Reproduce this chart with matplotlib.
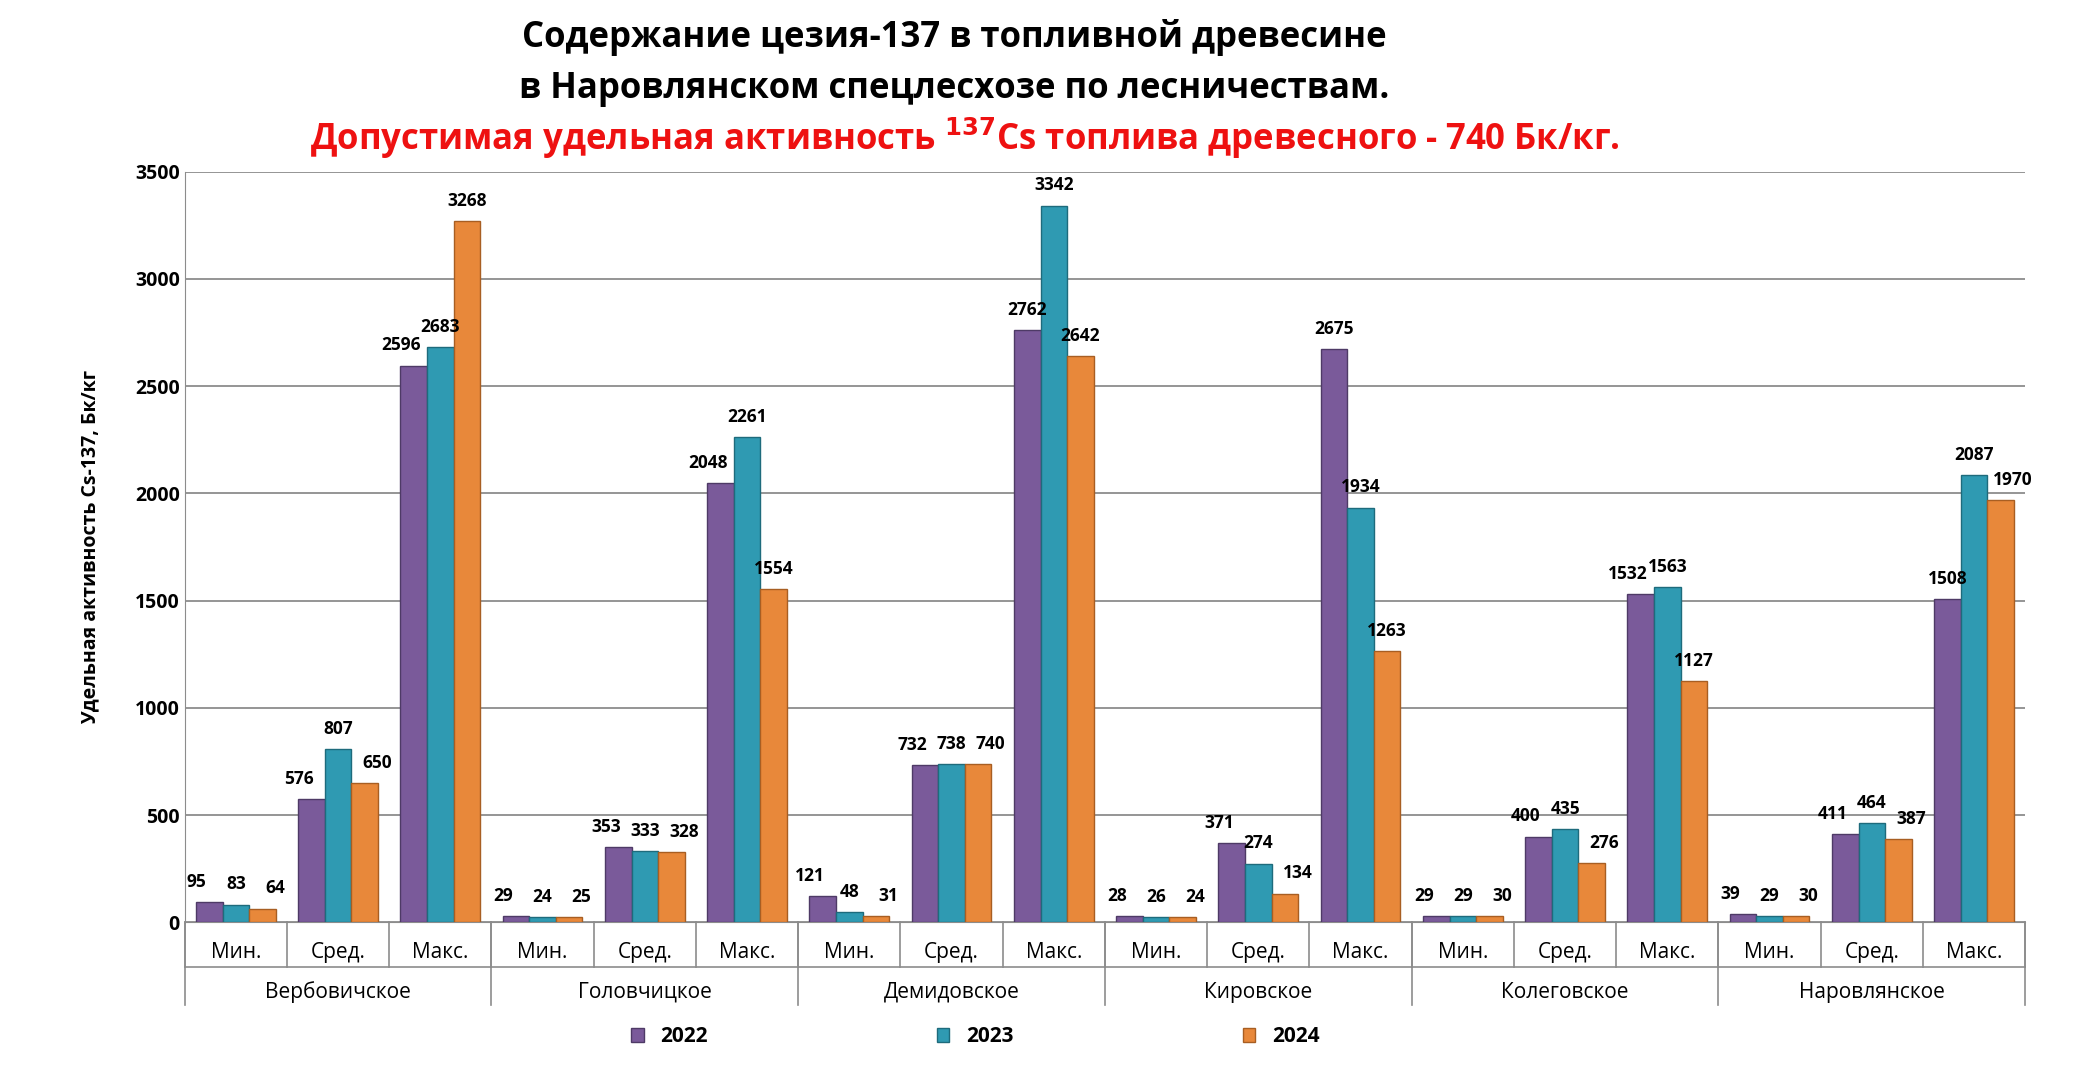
import matplotlib
matplotlib.use("Agg")
import matplotlib.pyplot as plt
import numpy as np

forestries = ["Вербовичское", "Головчицкое", "Демидовское", "Кировское", "Колеговское", "Наровлянское"]
stats = ["Мин.", "Сред.", "Макс."]
years = ["2022", "2023", "2024"]
v2022 = [95, 576, 2596, 29, 353, 2048, 121, 732, 2762, 28, 371, 2675, 29, 400, 1532, 39, 411, 1508]
v2023 = [83, 807, 2683, 24, 333, 2261, 48, 738, 3342, 26, 274, 1934, 29, 435, 1563, 29, 464, 2087]
v2024 = [64, 650, 3268, 25, 328, 1554, 31, 740, 2642, 24, 134, 1263, 30, 276, 1127, 30, 387, 1970]
colors = ["#7A5A9A", "#2F9AB2", "#E8883A"]
edges = ["#4E3A66", "#1E6B7C", "#A85E22"]

plt.rcParams["font.family"] = "Open Sans"
fig = plt.figure(figsize=(20.75, 10.8), dpi=100)
ax = fig.add_axes([0.089, 0.146, 0.887, 0.695])

n = len(v2022)
x = np.arange(n)
w = 0.26
series = [v2022, v2023, v2024]
for i, (vals, c, e) in enumerate(zip(series, colors, edges)):
    xs = x + (i - 1) * w
    ax.bar(xs, vals, w, color=c, edgecolor=e, linewidth=1, label=years[i], zorder=3)
    for j, (xx, v) in enumerate(zip(xs, vals)):
        mid = series[1][j]
        dx = 0
        if i == 0 and abs(v - mid) < 250:
            dx = -9
        if i == 2 and abs(v - mid) < 250:
            dx = 9
        ax.annotate(str(v), (xx, v), xytext=(dx, 8), textcoords="offset points",
                    ha="center", va="bottom", fontsize=12.5, fontweight="bold", zorder=4)

ax.set_ylim(0, 3500)
ax.set_xlim(-0.5, n - 0.5)
ax.set_yticks(range(0, 3501, 500))
ax.tick_params(axis="y", labelsize=14, length=0)
for lbl in ax.get_yticklabels():
    lbl.set_fontweight("bold")
ax.grid(axis="y", color="#8C8C8C", linewidth=1.3, zorder=0)
for s in ["top", "right"]:
    ax.spines[s].set_visible(False)
ax.spines["left"].set_color("#8C8C8C")
ax.spines["bottom"].set_color("#8C8C8C")
ax.set_xticks(x)
ax.set_xticklabels([stats[i % 3] for i in range(n)], fontsize=15)
ax.tick_params(axis="x", length=0, pad=14)
ax.set_ylabel("Удельная активность Cs-137, Бк/кг", fontsize=14, fontweight="bold", labelpad=25)

trans = ax.get_xaxis_transform()
for k in range(n + 1):
    xx = k - 0.5
    ax.plot([xx, xx], [0, -0.06], transform=trans, color="#8C8C8C", lw=1.2, clip_on=False)
for g in range(7):
    xx = g * 3 - 0.5
    ax.plot([xx, xx], [0, -0.11], transform=trans, color="#8C8C8C", lw=1.2, clip_on=False)
for g, name in enumerate(forestries):
    ax.text(g * 3 + 1, -0.093, name, transform=trans, ha="center", va="center", fontsize=15)
ax.plot([-0.5, n - 0.5], [-0.06, -0.06], transform=trans, color="#8C8C8C", lw=1.2, clip_on=False)

leg = fig.legend(loc="center", bbox_to_anchor=(0.47, 0.04), ncol=3, frameon=False,
                 fontsize=15, columnspacing=11, handlelength=0.6, handleheight=0.6)
for t in leg.get_texts():
    t.set_fontweight("bold")

fig.text(0.46, 0.965, "Содержание цезия-137 в топливной древесине", ha="center", va="center",
         fontsize=25, fontweight="bold")
fig.text(0.46, 0.918, "в Наровлянском спецлесхозе по лесничествам.", ha="center", va="center",
         fontsize=25, fontweight="bold")
fig.text(0.465, 0.872, r"Допустимая удельная активность $^{\mathbf{137}}$Cs топлива древесного - 740 Бк/кг.",
         ha="center", va="center", fontsize=25, fontweight="bold", color="#EE1111")

fig.savefig("out.png", dpi=100, facecolor="white")
